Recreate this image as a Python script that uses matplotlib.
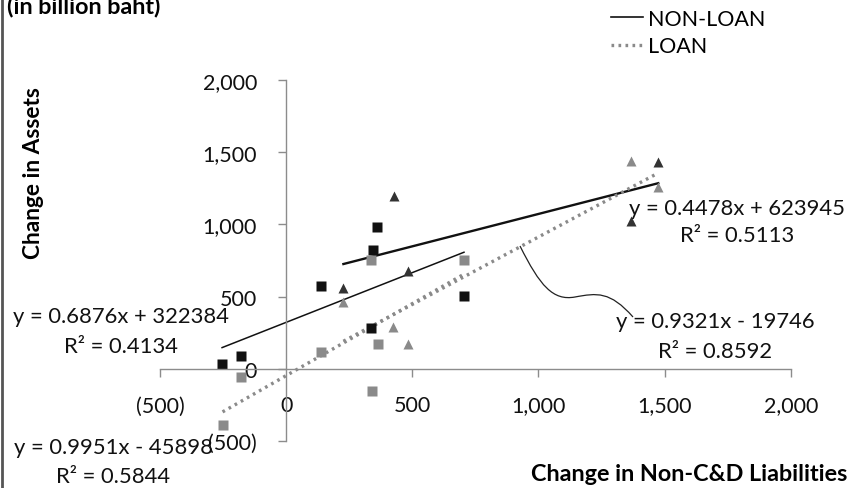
import numpy as np
import matplotlib
matplotlib.use('Agg')
import matplotlib.pyplot as plt
from matplotlib.lines import Line2D
from matplotlib.path import Path
from matplotlib.patches import PathPatch

plt.rcParams['font.family'] = ['Lato', 'DejaVu Sans']

# change in non-C&D liabilities (x) vs change in assets (y), billion baht
sq_x = [-254, -178, 139, 337, 343, 362, 705]
sq_nonloan_y = [34, 92, 577, 281, 825, 982, 508]
sq_loan_x = [-252, -178, 139, 342, 365, 337, 705]
sq_loan_y = [-386, -57, 117, -149, 172, 752, 752]

tri_x = [227, 428, 485, 1367, 1475]
tri_nonloan_y = [563, 1196, 676, 1020, 1430]
tri_loan_x = [227, 425, 482, 1366, 1475]
tri_loan_y = [460, 292, 172, 1435, 1258]

# trendline coefficients as printed (y in million baht)
fits = {
    'sq_nonloan': (0.6876, 322384, 0.4134),
    'sq_loan': (0.9951, -45898, 0.5844),
    'tri_nonloan': (0.4478, 623945, 0.5113),
    'tri_loan': (0.9321, -19746, 0.8592),
}

axis_ticks = [-500, 0, 500, 1000, 1500, 2000]

BLACK = '#111111'
GRAY = '#8a8a8a'
AXIS = '#8c8c8c'

W, H = 849, 489
fig = plt.figure(figsize=(W / 100, H / 100), dpi=100)
ax = fig.add_axes([160 / W, 1 - 442.3 / H, 630.7 / W, 361.6 / H])


def fmt(v):
    return '(%s)' % format(-v, ',') if v < 0 else format(v, ',')


def trend(xs, key):
    m, b, _ = fits[key]
    xx = np.array([min(xs), max(xs)])
    return xx, m * xx + b / 1000.0


dotted = (0, (0.8, 1.3))
xx, yy = trend(sq_x, 'sq_nonloan')
ax.plot(xx, yy, color=BLACK, lw=1.1)
xx, yy = trend(sq_loan_x, 'sq_loan')
ax.plot(xx, yy, color=GRAY, lw=2.4, linestyle=dotted)
xx, yy = trend(tri_x, 'tri_nonloan')
ax.plot(xx, yy, color=BLACK, lw=1.7)
xx, yy = trend(tri_loan_x, 'tri_loan')
ax.plot(xx, yy, color=GRAY, lw=2.4, linestyle=dotted)

ax.plot(sq_x, sq_nonloan_y, 's', color=BLACK, ms=6.8, mec='none')
ax.plot(sq_loan_x, sq_loan_y, 's', color=GRAY, ms=6.8, mec='none')
ax.plot(tri_x, tri_nonloan_y, '^', color='#333333', ms=7.2, mec='none')
ax.plot(tri_loan_x, tri_loan_y, '^', color=GRAY, ms=7.2, mec='none')

ax.set_xlim(-500, 2000)
ax.set_ylim(-500, 2000)
ax.spines['left'].set_position(('data', 0))
ax.spines['bottom'].set_position(('data', 0))
for s in ['top', 'right']:
    ax.spines[s].set_visible(False)
for s in ['left', 'bottom']:
    ax.spines[s].set_color(AXIS)
    ax.spines[s].set_linewidth(1.0)

ax.set_xticks(axis_ticks)
ax.set_yticks(axis_ticks)
ax.set_xticklabels([fmt(v) for v in axis_ticks])
ax.set_yticklabels([fmt(v) for v in axis_ticks])
ax.tick_params(axis='x', direction='out', length=6, width=1, color=AXIS,
               pad=13, labelsize=15.5, labelcolor='#111111')
ax.tick_params(axis='y', direction='out', length=6, width=1, color=AXIS,
               pad=15, labelsize=15.5, labelcolor='#111111')
# zero tick on x axis has no mark in the reference
ax.xaxis.get_major_ticks()[1].tick1line.set_visible(False)

# equations
eq_fs = 15.8
def eq_text(key, cx, y1, y2):
    m, b, r2 = fits[key]
    sign = '+' if b >= 0 else '-'
    fig.text(cx / W, 1 - y1 / H, 'y = %.4fx %s %d' % (m, sign, abs(b)),
             ha='center', va='center', fontsize=eq_fs, color='#111111')
    fig.text(cx / W, 1 - y2 / H, 'R² = %.4f' % r2,
             ha='center', va='center', fontsize=eq_fs, color='#111111')

eq_text('sq_nonloan', 121, 317, 347)
eq_text('sq_loan', 113, 448, 477)
eq_text('tri_nonloan', 737, 209, 236)
eq_text('tri_loan', 715, 322, 352)

# leader line to the loan-triangle equation
pts = [(520, 247), (540, 287), (553, 302), (575, 298),
       (597, 294), (610, 292), (633, 318)]
codes = [Path.MOVETO] + [Path.CURVE4] * 6
path = Path([(x / W, 1 - y / H) for x, y in pts], codes)
fig.add_artist(PathPatch(path, transform=fig.transFigure, fill=False,
                         edgecolor='#222222', lw=0.9))

# axis titles
fig.text(34 / W, 1 - 173 / H, 'Change in Assets', rotation=90,
         ha='center', va='center', fontsize=16.3, fontweight='bold')
fig.text(847 / W, 1 - 475 / H, 'Change in Non-C&D Liabilities',
         ha='right', va='center', fontsize=16.8, fontweight='bold')
fig.text(7 / W, 1 - 13 / H, '(in billion baht)', ha='left',
         va='baseline', fontsize=16.8, fontweight='bold')

# legend
handles = [Line2D([], [], color=BLACK, lw=1.2),
           Line2D([], [], color=GRAY, lw=2.4, linestyle=dotted)]
fig.legend(handles, ['NON-LOAN', 'LOAN'], loc='upper left',
           bbox_to_anchor=(598 / W, 1 + 3 / H), frameon=False,
           fontsize=15.5, handlelength=1.5, handletextpad=0.2,
           labelspacing=0.35, borderpad=0.1)

# left frame edge
fig.add_artist(Line2D([1.5 / W, 1.5 / W], [0, 1], color='#555555', lw=2))

fig.savefig('out.png', dpi=100)
